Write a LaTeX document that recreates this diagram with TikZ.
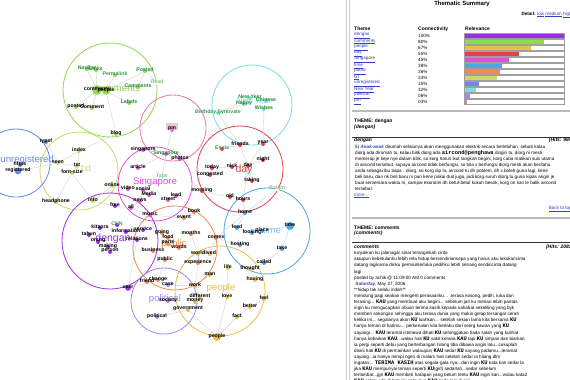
\documentclass[tikz,border=0pt]{standalone}
\usepackage{fontspec}
\setmainfont{Liberation Sans}
\setmonofont{Liberation Mono}
\usetikzlibrary{positioning}

\definecolor{cmcol}{HTML}{8EDC4A}
\definecolor{nycol}{HTML}{7ADDE6}
\definecolor{pmcol}{HTML}{E27AB8}
\definecolor{dycol}{HTML}{E2404E}
\definecolor{sgcol}{HTML}{E050D6}
\definecolor{txcol}{HTML}{C8DE62}
\definecolor{urcol}{HTML}{6A86F0}
\definecolor{dgcol}{HTML}{9A2EE6}
\definecolor{pbcol}{HTML}{F08A52}
\definecolor{tmcol}{HTML}{4EA6E6}
\definecolor{ppcol}{HTML}{E8C042}
\definecolor{plcol}{HTML}{A484F2}
\definecolor{dkgreen}{HTML}{1E8A2E}
\definecolor{midgreen}{HTML}{3A9A4A}
\definecolor{ltgreen}{HTML}{7CC47C}
\definecolor{linkcol}{HTML}{3344BB}

\newcommand*{\xmax}{570}
\newcommand*{\ymax}{380}
\newcommand*{\px}{354}
\newcommand*{\lnk}[1]{\textcolor{linkcol}{\underline{#1}}}
\newcommand*{\kw}[1]{{\ttfamily\bfseries\fontsize{5.4}{5.4}\selectfont #1}}

% word nodes: name/x/y/text/text colour/dot colour
\newcommand*{\graphnodes}{
cm/97/90/comments/black/cmcol, cp/106/91/people/black/cmcol,
navbar/87/69/NavBar/dkgreen/cmcol, links/96/70/Links/dkgreen/cmcol,
perma/115/75/Permalink/midgreen/cmcol, posted/145/71/Posted/dkgreen/cmcol,
cmts/138/87/Comments/dkgreen/cmcol, read/157/83/Read/ltgreen/white,
labels/129/103/Labels/dkgreen/cmcol, postd/76/107/posted/black/cmcol,
cmnt/92/108/Comment/black/cmcol, blog/116/134/blog/black/cmcol,
bday/218/113/Birthday Synovate/midgreen/nycol, ny/250/98/New Year/dkgreen/nycol,
happy/244/104/Happy/dkgreen/nycol, chin/266/101/Chinese/dkgreen/nycol,
wish/264/109/Wishes/dkgreen/nycol,
pm/172/130/pm/black/pmcol, sgg/166/154/Singapore/dkgreen/sgcol,
sgl/143/150/singapore/black/sgcol, photos/180/159/photos/black/sgcol,
taps/162/177/Taps/ltgreen/white, article/138/168/article/black/sgcol,
social/143/190/social/black/sgcol, media/149/195/Media/black/sgcol,
video/128/189/video/black/sgcol, news/140/201/news/black/sgcol,
lead/176/196/lead/black/sgcol, street/168/200/street/black/sgcol,
music/150/215/music/black/sgcol, all/131/208/all/black/sgcol,
index/79/151/index/black/txcol, seen/58/163/seen/black/txcol,
txt/77/166/txt/black/txcol, fonts/72/173/font-size/black/txcol,
headph/56/202/headphone/black/txcol, info/93/201/info/black/txcol,
online/112/186/online/black/txcol,
typef/46/142/typef/black/urcol, https/20/165/https/black/urcol,
reg/18/171/registered/black/urcol,
free/115/206/free/black/dgcol, kita/100/228/kitaora/black/dgcol,
cnn/117/225/CNN/midgreen/dgcol, infm/126/232/information/black/dgcol,
serv/143/230/service/black/dgcol, tahun/89/235/tahun/black/dgcol,
rel/137/240/relations/black/dgcol, orang/98/242/orang/black/dgcol,
making/108/247/making/black/dgcol, person/110/252/person/black/dgcol,
user/128/288/user/black/dgcol,
event/184/218/event/black/pbcol, book/194/212/book/black/pbcol,
going/162/233/going/black/pbcol, food/168/238/food/black/pbcol,
parts/168/244/parts/black/pbcol, words/179/248/words/black/pbcol,
busin/153/251/business/black/pbcol, pub/165/260/public/black/pbcol,
months/191/234/months/black/pbcol, comes/216/238/comes/black/pbcol,
world/198/254/world/black/ppcol, lived/210/254/lived/black/ppcol,
exper/198/263/experience/black/pbcol, change/158/280/change/black/pbcol,
friend/147/282/friend/black/pbcol, case/168/285/case/black/plcol,
work/195/286/work/black/ppcol, diff/200/297/different/black/ppcol,
money/195/302/money/black/ppcol, govt/188/310/government/black/ppcol,
man/210/275/man/black/ppcol, life/228/268/life/black/ppcol,
love/227/297/love/black/ppcol, thought/250/269/thought/black/ppcol,
having/255/280/having/black/ppcol, feel/264/299/feel/black/ppcol,
better/250/307/better/black/ppcol, fact/237/317/fact/black/ppcol,
ppl/217/337/people/black/ppcol,
society/168/301/society/black/plcol, polit/157/317/political/black/plcol,
esola/222/149/Esola/midgreen/dycol, friends/240/145/friends/black/dycol,
year/263/144/year/black/dycol, night/263/160/night/black/dycol,
today/212/168/today/black/dycol, nick/232/167/nick/black/dycol,
dayb/248/166/day/black/dycol, cong/210/175/congested/black/dycol,
taking/252/181/taking/black/dycol, morn/202/191/morning/black/dycol,
old/230/197/old/black/dycol, hours/243/200/hours/black/dycol,
batam/277/189/Batam/ltgreen/white,
home/245/213/home/black/tmcol, feed/237/228/feed/black/tmcol,
looking/252/233/looking/black/tmcol, place/262/231/place/black/tmcol,
timeb/290/226/time/black/tmcol, take/282/249/take/black/tmcol,
called/264/263/called/black/tmcol, hosting/240/245/hosting/black/tmcol}

\begin{document}
\begin{tikzpicture}
[
	x=1pt, y=-1pt,
	edge/.style={draw=gray!35, line width=0.4pt},
	ring/.style={line width=0.8pt},
	word/.style={font=\fontsize{5.2}{5.2}\selectfont\bfseries, inner sep=0pt, yshift=1.2pt},
	biglbl/.style={font=\fontsize{9.6}{9.6}\selectfont, inner sep=0pt},
	body/.style={anchor=north west, inner sep=0pt, align=left, font=\fontsize{4.6}{6.1}\selectfont},
	head/.style={anchor=west, inner sep=0pt, font=\fontsize{5}{5}\selectfont\bfseries},
	cell/.style={anchor=west, inner sep=0pt, font=\fontsize{4.6}{4.6}\selectfont},
	bar/.style={draw=gray!75, line width=0.7pt}
]

	\useasboundingbox (0,0) rectangle (\xmax,\ymax);
	\fill[white] (0,0) rectangle (\xmax,\ymax);

	% theme rings
	\foreach \x/\y/\r/\c in {110/90/47/cmcol, 252/105/40/nycol, 173/128/33/pmcol,
		240/169/43/dycol, 155/184/37/sgcol, 79/171/39/txcol, 16/163/34/urcol,
		110/241/48/dgcol, 175/248/42/pbcol, 267/231/43/tmcol, 220/291/45/ppcol,
		164/301/33/plcol} {
		\draw[ring,\c] (\x,\y) circle (\r);
	}

	% word positions
	\foreach \n/\x/\y/\t/\tc/\dc in \graphnodes {
		\coordinate (\n) at (\x,\y);
	}

	% links
	\foreach \a/\b in {cm/navbar, cm/links, cp/perma, cp/posted, cp/cmts, cp/labels,
		cm/postd, cm/cmnt, cp/blog, posted/read, cmts/posted, blog/index,
		bday/ny, bday/happy, bday/friends, wish/year, pm/sgg, sgl/sgg, sgg/photos,
		sgg/article, sgg/taps, taps/social, social/news, news/all, all/music, all/free,
		video/online, lead/street, index/seen, seen/txt, txt/index, txt/fonts,
		fonts/headph, fonts/info, info/online, info/free, seen/reg, typef/seen,
		kita/infm, infm/serv, user/rel, user/change, music/event, event/book,
		going/food, busin/pub, pub/change, months/world, world/exper, exper/work,
		comes/lived, comes/home, change/friend, case/work, work/man, work/diff,
		diff/money, govt/polit, govt/ppl, ppl/fact, ppl/love, love/life, fact/better,
		better/feel, having/thought, thought/called, called/take, take/timeb,
		timeb/place, looking/feed, home/feed, home/batam, hours/home, hours/old,
		old/morn, dayb/friends, dayb/year, dayb/night, dayb/nick, nick/today,
		today/cong, dayb/taking, dayb/hours, esola/friends, hosting/comes} {
		\draw[edge] (\a) -- (\b);
	}

	% theme labels
	\node[biglbl,text=cmcol] (L-comments) at (118,88) {comments};
	\node[biglbl,text=nycol,font=\fontsize{8}{8}\selectfont] (L-newyear) at (254,101) {New Year};
	\node[biglbl,text=sgcol] (L-singapore) at (155,182) {Singapore};
	\node[biglbl,text=txcol] (L-txt) at (86,168) {txt};
	\node[biglbl,text=urcol,anchor=east] (L-unreg) at (54,160) {unregistered};
	\node[biglbl,text=dgcol,font=\fontsize{10.5}{10.5}\selectfont] (L-dengan) at (113,239) {dengan};
	\node[biglbl,text=pbcol] (L-public) at (174,244) {public};
	\node[biglbl,text=ppcol] (L-people) at (221,288) {people};
	\node[biglbl,text=plcol] (L-political) at (165,299) {political};
	\node[biglbl,text=dycol,font=\fontsize{10.5}{10.5}\selectfont] (L-day) at (244,170) {day};
	\node[biglbl,text=tmcol!70] (L-time) at (272,230) {time};
	\fill[pmcol!45] (166,123) rectangle (178,130);

	% hub dots
	\foreach \n/\r/\c in {cm/4.8/cmcol, cp/3.8/cmcol, reg/3.4/urcol, timeb/4/tmcol,
		ppl/4/ppcol, user/2.8/dgcol} {
		\fill[\c] (\n) circle (\r);
	}

	% dots and words
	\foreach \n/\x/\y/\t/\tc/\dc in \graphnodes {
		\fill[\dc] (\n) circle (2);
		\node[word,text=\tc] (t-\n) at (\n) {\t};
	}

	% panel divider
	\draw[gray!40, line width=0.6pt] (346,0) -- (346,\ymax);
	\draw[gray!40, line width=0.6pt] (349,0) -- (349,\ymax);

	% summary table
	\node[head,anchor=center,font=\fontsize{6}{6}\selectfont\bfseries] (title) at (462,4) {Thematic Summary};
	\node[cell,anchor=east] (detail) at (572,15) {\textbf{Detail:} \lnk{low} \lnk{medium} \lnk{high}};
	\node[head] (h-theme) at (\px,29) {Theme};
	\node[head] (h-conn) at (418,29) {Connectivity};
	\node[head] (h-rel) at (465,29) {Relevance};
	\foreach \t/\p/\c [count=\i, evaluate=\i as \y using 29.7+6*\i] in {dengan/100/dgcol,
		comments/80/cmcol, people/67/ppcol, day/55/dycol, Singapore/45/sgcol, time/38/tmcol,
		public/36/pbcol, txt/33/txcol, unregistered/15/urcol, New Year/12/nycol,
		political/06/plcol, pm/03/pmcol} {
		\node[cell] (r-\i) at (\px,\y) {\lnk{\t}};
		\node[cell] (c-\i) at (418,\y) {\p\%};
		\fill[\c] (464,\y-2.2) rectangle ({464+\p},\y+2.2);
		\draw[bar] (464,\y-2.2) rectangle (564,\y+2.2);
	}

	% theme: dengan
	\draw[gray!55, line width=1.2pt] (352,111) -- (\xmax,111);
	\node[head] (th-dengan) at (\px,121) {THEME: dengan};
	\node[head,font=\fontsize{5}{5}\selectfont\bfseries\itshape,below=1.2pt of th-dengan.south west,anchor=north west] (th-dengan2) {(dengan)};
	\draw[black!80, line width=0.8pt] (352,137) -- (\xmax,137);
	\node[head,font=\fontsize{5}{5}\selectfont\bfseries\itshape] (hd-dengan) at (\px,140.5) {dengan};
	\node[head,anchor=east,font=\fontsize{5}{5}\selectfont\bfseries\itshape] (hits-dengan) at (572,140.5) {(Hits: 986};
	\node[body] (p-dengan) at (355,144.6) {5) \textcolor{linkcol}{\textbf{\textit{Anak-anak}}} dirumah selalunya akan menggunakan elektrik secara berlebihan, sebab kalau\\
diorg ada dirumah tu, kalau bilik diorg ada \kw{aircond@penghawa} dingin tu, diorg ni mesti\\
memerap je keje nye dalam bilik, so korg harus ikut langkah begini, korg cuba matikan suis utama\\
di aircond tersebut, supaya aircond tidak berfungsi, so bila x berfungsi diorg mesti akan beritahu\\
anda sebagai ibu bapa . diorg, so korg dip la, aircond tu dh poblem, dh x boleh guna lagi, kene\\
beli baru, dan nk beli baru ni pun kene pakai duit juga, jadi korg suruh diorg tu guna kipas angin je\\
buat sementara waktu ni, sampai ekonomi dh betul-betul kukuh besok, korg on kan le balik aircond\\
tersebut.};
	\node[cell] (more) at (\px,196) {\lnk{more...}};
	\node[cell,anchor=east] (top) at (572,209) {\lnk{Back to top}};

	% theme: comments
	\draw[gray!55, line width=1.2pt] (352,218) -- (\xmax,218);
	\node[head] (th-comments) at (\px,228) {THEME: comments};
	\node[head,font=\fontsize{5}{5}\selectfont\bfseries\itshape,below=1.2pt of th-comments.south west,anchor=north west] (th-comments2) {(comments)};
	\draw[black!80, line width=0.8pt] (352,242) -- (\xmax,242);
	\node[head,font=\fontsize{5}{5}\selectfont\bfseries\itshape] (hd-comments) at (\px,247) {comments};
	\node[head,anchor=east,font=\fontsize{5}{5}\selectfont\bfseries\itshape] (hits-comments) at (572,247) {(Hits: 2082};
	\node[body] (p-comments) at (\px,251.2) {tunjukkan ku jalanagar sinar teranginkah cinta\\
ataupun kebetulanku lebih rela hidup bersendiriansepa yang harus aku lakukancinta\\
datang lagikarna diriku permainterluka pedihku lebih senang sendiricinta datang\\
lagi\\
posted by achik @ 11:09:00 AM 0 comments\\
\ \textcolor{linkcol}{\textbf{\textit{Saturday,}}} May 27, 2006\\
**hidup tak selalu indah**\\
mendung pagi seakan mengerti perasaanku. . .terasa kosong, pedih, luka dan\\
terasing... \kw{KAU} yang membuat aku begini... sebelum jari ku menari lebih pantas\\
ingin ku mengucapkan ribuan terima kasih kepada sahabat sekeliling yang byk\\
memberi sokongan sehingga aku terasa dunia yang makin gelap tersangat cerah\\
ketika ini... segalanya akan \kw{KU} luahkan... setelah sekian lama kita bersama \kw{KU}\\
hanya teman di hatimu... perkenalan kita berlaku dari seorg kawan yang \kw{KU}\\
sayangi... \kw{KAU} teramat istimewa dihati \kw{KU} sehinggakan tiada salah yang kulihat\\
hanya kebaikan \kw{KAU}...walau hati \kw{KU} sakit kerana \kw{KAU} tapi \kw{KU} simpan dan biarkan\\
ia pergi seperti debu yang berterbangan hilang tiba dibawa angin lalu...cukuplah\\
disini hati \kw{KU} di permainkan walaupun \kw{KAU} sedar \kw{KU} sayang padamu...teramat\\
sayang...ia hanya mimpi ngeri di malam hari setelah sedar ia hilang dlm\\
ingatan... \kw{TERIMA KASIH} atas segala-gala nya...dan ingin \kw{KU} kata kan sedar la\\
jika \kw{KAU} mempunyai teman seperti \kw{KU}(girl) sedarlah...sedar sebelum\\
terlambat...jgn \kw{KAU} memberi harapan yang belum tentu \kw{KAU} ingin kan...walau kata2\\
\kw{KAU} selalu ada di hati ini walaupun \kw{KAU} tiada lagi di sisi};

\end{tikzpicture}
\end{document}
